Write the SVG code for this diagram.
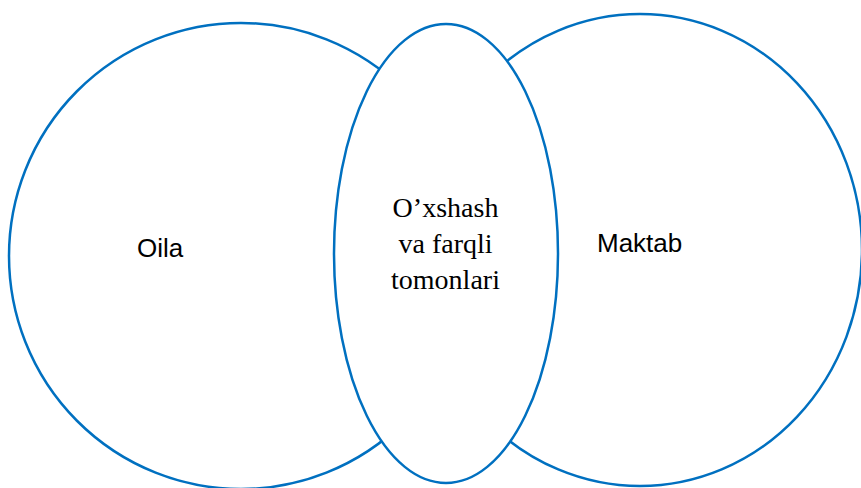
<svg xmlns="http://www.w3.org/2000/svg" width="861" height="488" viewBox="0 0 861 488">
<style>
.shape{fill:#fff;stroke:#0070C0;stroke-width:2.5}
.sans{font-family:"Liberation Sans",Arial,sans-serif;font-size:26px;fill:#000}
.serif{font-family:"Liberation Serif","Times New Roman",serif;font-size:28px;fill:#000;text-anchor:middle}
</style>
<rect width="861" height="488" fill="#fff"/>
<g id="oila">
<ellipse class="shape" cx="241" cy="256" rx="232" ry="233"/>
<text class="sans" x="137" y="257">Oila</text>
</g>
<g id="maktab">
<ellipse class="shape" cx="640" cy="250" rx="222" ry="236"/>
<text class="sans" x="597" y="252">Maktab</text>
</g>
<g id="oxshash">
<ellipse class="shape" cx="446" cy="253.5" rx="112" ry="229.5"/>
<text class="serif" x="445.5" y="217">O’xshash</text>
<text class="serif" x="445.5" y="253">va farqli</text>
<text class="serif" x="445.5" y="289">tomonlari</text>
</g>
<g id="connectors"></g>
</svg>
